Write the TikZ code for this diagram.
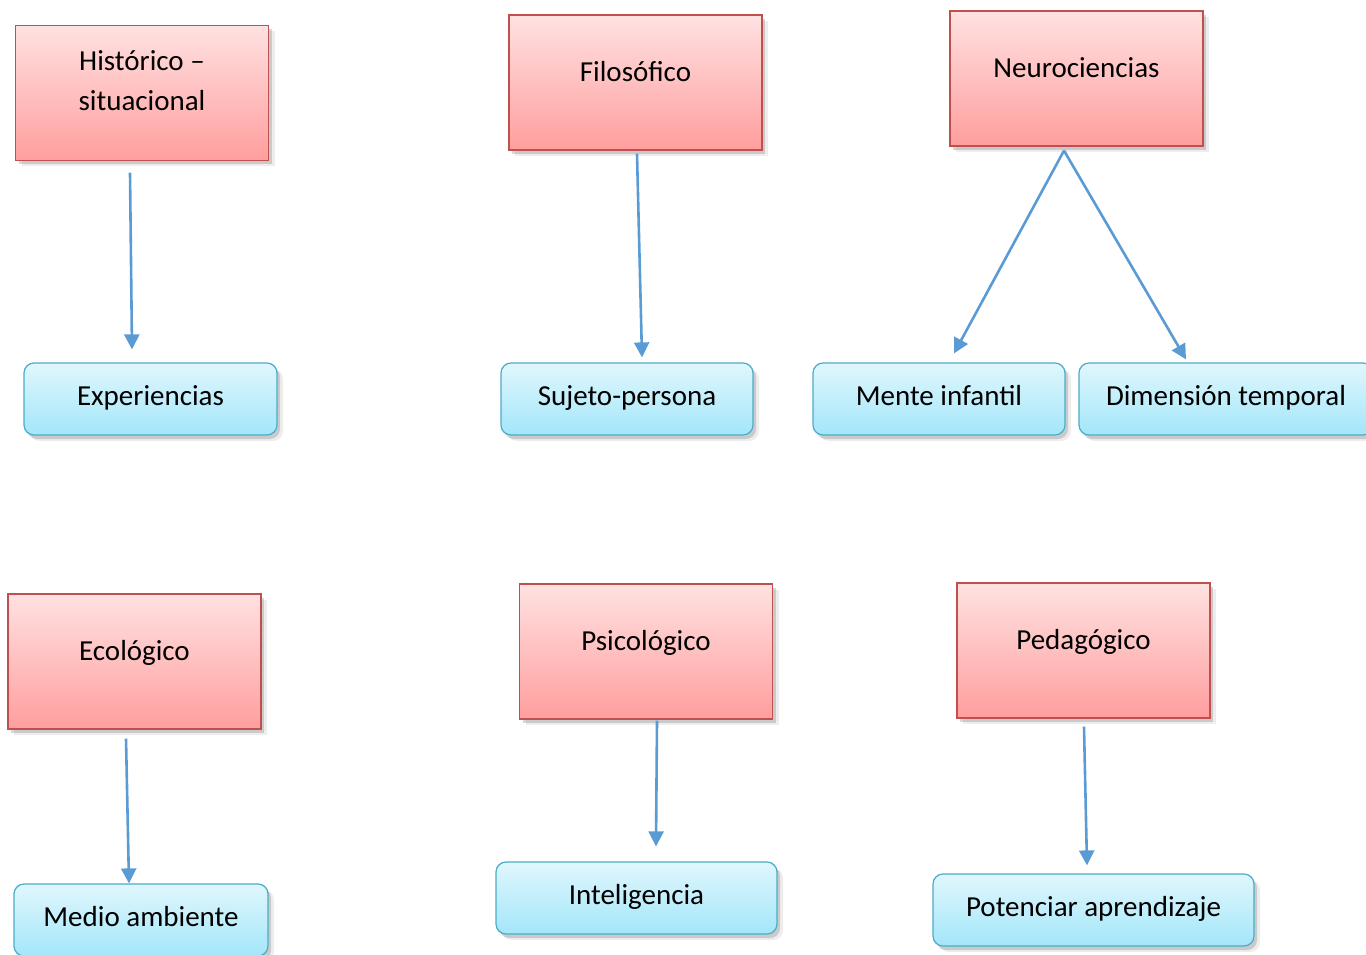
\documentclass[tikz,border=0pt]{standalone}
\usepackage{fontspec}
\setmainfont{Carlito}
\usepackage{tikz}
\usetikzlibrary{calc}
\usetikzlibrary{arrows.meta}
\usetikzlibrary{shadows}

\definecolor{boxred}{RGB}{192,80,77}
\definecolor{redtop}{RGB}{255,225,225}
\definecolor{redbot}{RGB}{255,158,158}
\definecolor{boxblue}{RGB}{75,172,198}
\definecolor{bluetop}{RGB}{224,247,253}
\definecolor{bluebot}{RGB}{163,230,250}
\definecolor{linkblue}{RGB}{91,155,213}

\tikzset{
  soft shadow/.style={
    drop shadow={shadow xshift=6pt,shadow yshift=-6pt,opacity=0.1,fill=black!70},
    drop shadow={shadow xshift=3pt,shadow yshift=-4pt,opacity=0.22,fill=black!70}},
  topic/.style={draw=boxred,line width=1.2pt,top color=redtop,bottom color=redbot,
    minimum width=253pt,minimum height=135pt,inner sep=0pt,
    text height=22pt,text depth=24pt,soft shadow},
  idea/.style={draw=boxblue,line width=1.2pt,top color=bluetop,bottom color=bluebot,
    rounded corners=10pt,minimum height=72pt,inner sep=0pt,
    text height=22pt,text depth=10pt,soft shadow},
  link/.style={draw=linkblue,line width=2.6pt,-{Triangle[length=15pt,width=15pt]}}
}

\begin{document}
\begin{tikzpicture}[x=1pt,y=-1pt,font=\fontsize{29}{40}\selectfont]
  % Boundary
  \path[use as bounding box] (0,0) rectangle (1366,955);
  % Upper row
  \node[topic,align=center,text height=62pt,text depth=26pt] (hist) at (142,93) {Histórico –\\situacional};
  \node[topic] (filo) at (635.5,82.5) {Filosófico};
  \node[topic] (neuro) at (1076.5,78.5) {Neurociencias};
  \node[idea,minimum width=253pt] (exp) at (150.5,399) {Experiencias};
  \node[idea,minimum width=252pt] (suj) at (627,399) {Sujeto-persona};
  \node[idea,minimum width=252pt] (mente) at (939,399) {Mente infantil};
  \node[idea,minimum width=294pt] (dim) at (1226,399) {Dimensión temporal};
  % Lower row
  \node[topic] (eco) at (134.5,661.5) {Ecológico};
  \node[topic] (psico) at (646,651.5) {Psicológico};
  \node[topic] (peda) at (1083.5,650.5) {Pedagógico};
  \node[idea,minimum width=254pt] (medio) at (141,920) {Medio ambiente};
  \node[idea,minimum width=281pt] (intel) at (636.5,898) {Inteligencia};
  \node[idea,minimum width=321pt] (poten) at (1093.5,910) {Potenciar aprendizaje};
  % Links
  \draw[link] ($(hist.south)+(-12,11.5)$) -- ($(exp.north)+(-18.5,-13)$);
  \draw[link] ($(filo.south)+(1.5,3)$) -- ($(suj.north)+(15,-5)$);
  \draw[link] ($(neuro.south)+(-12.5,4)$) -- ($(mente.north)+(15,-9)$);
  \draw[link] ($(neuro.south)+(-12.5,4)$) -- ($(dim.north)+(-40,-3)$);
  \draw[link] ($(eco.south)+(-8.5,9)$) -- ($(medio.north)+(-12,0)$);
  \draw[link] ($(psico.south)+(11,1)$) -- ($(intel.north)+(19.5,-15)$);
  \draw[link] ($(peda.south)+(0.5,8)$) -- ($(poten.north)+(-6.5,-8)$);
\end{tikzpicture}
\end{document}
